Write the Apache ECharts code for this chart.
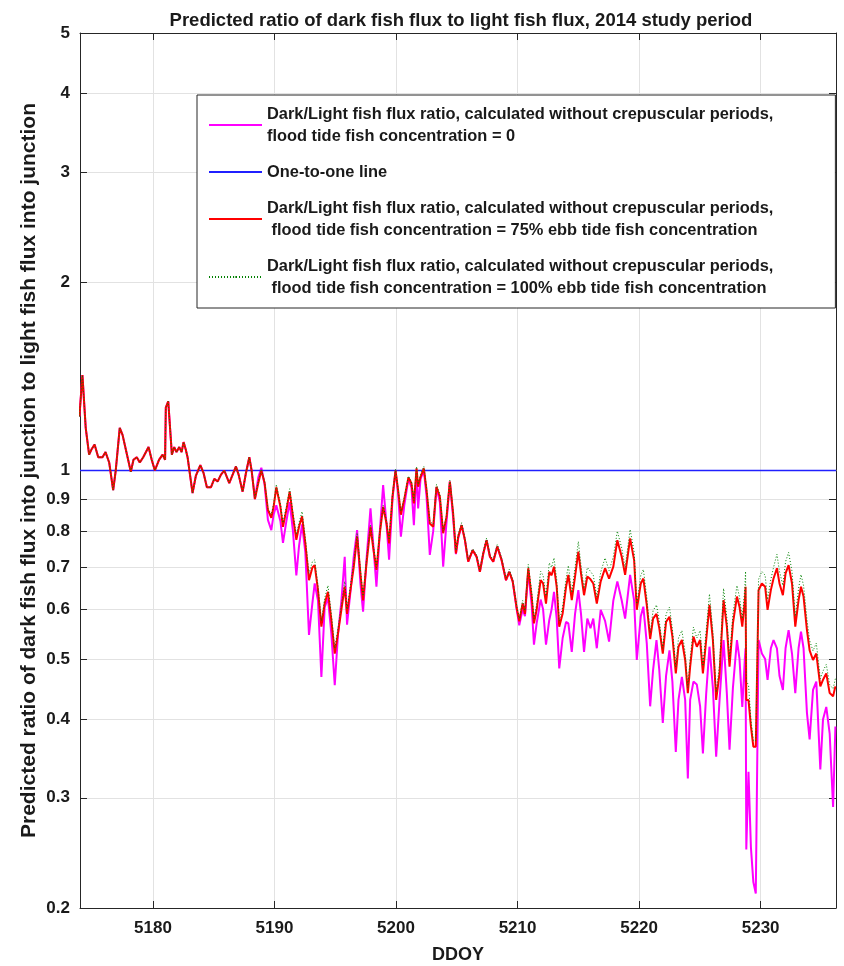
<!DOCTYPE html>
<html>
<head>
<meta charset="utf-8">
<script src="https://cdn.jsdelivr.net/npm/echarts@6/dist/echarts.min.js"></script>
<style>
html, body { margin: 0; padding: 0; background: #fff; }
#chart { width: 844px; height: 966px; }
</style>
</head>
<body>
<div id="chart"></div>
<script>
// tick values
var xTicks = [5180, 5190, 5200, 5210, 5220, 5230];
var yTicks = [0.2, 0.3, 0.4, 0.5, 0.6, 0.7, 0.8, 0.9, 1, 2, 3, 4, 5];

// flood tide fish concentration = 0 (magenta)
var ratioZero = [
  [5173.95,1.22],[5174.2,1.42],[5174.47,1.17],[5174.75,1.06],[5174.94,1.08],[5175.2,1.10],[5175.5,1.05],[5175.85,1.05],
  [5176.1,1.07],[5176.4,1.03],[5176.73,0.93],[5176.94,1.0],[5177.27,1.17],[5177.5,1.14],[5177.77,1.08],[5177.96,1.04],
  [5178.18,0.995],[5178.4,1.04],[5178.67,1.05],[5178.92,1.03],[5179.2,1.05],[5179.64,1.09],[5179.9,1.04],[5180.16,1.0],
  [5180.5,1.04],[5180.8,1.06],[5181.0,1.04],[5181.06,1.26],[5181.26,1.29],[5181.42,1.29],[5181.56,1.06],[5181.75,1.09],
  [5181.94,1.07],[5182.17,1.09],[5182.36,1.07],[5182.52,1.11],[5182.7,1.08],[5182.85,1.05],[5183.26,0.92],[5183.53,0.98],
  [5183.9,1.02],[5184.17,0.99],[5184.44,0.94],[5184.77,0.94],[5185.05,0.97],[5185.32,0.96],[5185.6,0.985],[5185.87,1.0],
  [5186.28,0.955],[5186.56,0.985],[5186.83,1.015],[5187.05,0.985],[5187.38,0.925],[5187.65,0.99],[5187.93,1.05],[5188.12,1.0],
  [5188.39,0.9],[5188.67,0.975],[5188.92,1.01],[5189.19,0.95],[5189.46,0.834],[5189.74,0.803],[5189.93,0.85],[5190.15,0.88],
  [5190.49,0.83],[5190.7,0.766],[5190.98,0.83],[5191.25,0.89],[5191.52,0.80],[5191.8,0.68],[5192.02,0.757],[5192.27,0.82],
  [5192.54,0.74],[5192.84,0.546],[5193.12,0.614],[5193.31,0.66],[5193.58,0.62],[5193.86,0.468],[5194.13,0.605],[5194.4,0.625],
  [5194.68,0.548],[5194.96,0.454],[5195.23,0.548],[5195.51,0.62],[5195.78,0.728],[5195.97,0.567],[5196.25,0.64],[5196.52,0.728],
  [5196.8,0.803],[5197.07,0.66],[5197.29,0.595],[5197.57,0.72],[5197.9,0.87],[5198.11,0.77],[5198.39,0.652],[5198.67,0.80],
  [5198.94,0.948],[5199.22,0.82],[5199.43,0.72],[5199.71,0.90],[5199.96,1.0],[5200.17,0.92],[5200.4,0.784],[5200.68,0.88],
  [5201.02,0.97],[5201.27,0.94],[5201.47,0.818],[5201.69,1.0],[5201.82,0.87],[5202.02,0.97],[5202.29,1.0],[5202.51,0.91],
  [5202.78,0.733],[5203.06,0.80],[5203.33,0.94],[5203.61,0.89],[5203.88,0.702],[5204.16,0.83],[5204.43,0.96],[5204.7,0.84],
  [5204.93,0.735],[5205.12,0.78],[5205.4,0.818],[5205.67,0.774],[5205.94,0.715],[5206.31,0.746],[5206.63,0.728],[5206.9,0.689],
  [5207.18,0.737],[5207.45,0.774],[5207.73,0.728],[5208.0,0.715],[5208.33,0.756],[5208.69,0.719],[5209.05,0.668],[5209.32,0.689],
  [5209.6,0.665],[5209.93,0.60],[5210.14,0.566],[5210.42,0.60],[5210.61,0.585],[5210.88,0.69],[5211.16,0.61],[5211.35,0.527],
  [5211.57,0.57],[5211.9,0.622],[5212.1,0.6],[5212.34,0.527],[5212.61,0.577],[5212.8,0.6],[5213.0,0.64],[5213.22,0.58],
  [5213.43,0.483],[5213.71,0.54],[5213.99,0.573],[5214.18,0.57],[5214.46,0.513],[5214.73,0.59],[5215.0,0.644],[5215.22,0.59],
  [5215.47,0.513],[5215.74,0.58],[5216.0,0.56],[5216.23,0.58],[5216.52,0.52],[5216.84,0.599],[5217.2,0.575],[5217.53,0.533],
  [5217.88,0.62],[5218.21,0.665],[5218.57,0.62],[5218.85,0.58],[5219.26,0.681],[5219.59,0.62],[5219.81,0.498],[5220.14,0.585],
  [5220.35,0.606],[5220.63,0.53],[5220.91,0.42],[5221.15,0.48],[5221.43,0.536],[5221.66,0.48],[5221.95,0.395],[5222.22,0.47],
  [5222.5,0.516],[5222.74,0.46],[5223.02,0.355],[5223.24,0.43],[5223.52,0.468],[5223.79,0.43],[5224.01,0.322],[5224.2,0.43],
  [5224.47,0.46],[5224.75,0.455],[5225.02,0.42],[5225.25,0.353],[5225.52,0.44],[5225.79,0.523],[5226.07,0.45],[5226.34,0.349],
  [5226.62,0.43],[5226.95,0.536],[5227.22,0.44],[5227.44,0.358],[5227.72,0.45],[5228.05,0.536],[5228.26,0.5],[5228.49,0.419],
  [5228.7,0.5],[5228.76,0.52],[5228.82,0.248],[5229.0,0.33],[5229.2,0.25],[5229.4,0.22],[5229.6,0.211],[5229.83,0.536],
  [5230.1,0.51],[5230.37,0.50],[5230.57,0.463],[5230.84,0.52],[5231.06,0.536],[5231.34,0.52],[5231.55,0.47],[5231.83,0.446],
  [5232.05,0.52],[5232.3,0.556],[5232.58,0.51],[5232.85,0.441],[5233.12,0.52],[5233.32,0.553],[5233.53,0.52],[5233.81,0.41],
  [5234.03,0.372],[5234.31,0.446],[5234.58,0.46],[5234.91,0.333],[5235.13,0.40],[5235.4,0.419],[5235.68,0.38],[5235.96,0.29],
  [5236.15,0.39]
];

// flood tide fish concentration = 75% ebb (red)
var ratio75 = [
  [5173.95,1.22],[5174.2,1.42],[5174.47,1.17],[5174.75,1.06],[5174.94,1.08],[5175.2,1.10],[5175.5,1.05],[5175.85,1.05],
  [5176.1,1.07],[5176.4,1.03],[5176.73,0.93],[5176.94,1.0],[5177.27,1.17],[5177.5,1.14],[5177.77,1.08],[5177.96,1.04],
  [5178.18,0.995],[5178.4,1.04],[5178.67,1.05],[5178.92,1.03],[5179.2,1.05],[5179.64,1.09],[5179.9,1.04],[5180.16,1.0],
  [5180.5,1.04],[5180.8,1.06],[5181.0,1.04],[5181.06,1.26],[5181.26,1.29],[5181.42,1.29],[5181.56,1.06],[5181.75,1.09],
  [5181.94,1.07],[5182.17,1.09],[5182.36,1.07],[5182.52,1.11],[5182.7,1.08],[5182.85,1.05],[5183.26,0.92],[5183.53,0.98],
  [5183.9,1.02],[5184.17,0.99],[5184.44,0.94],[5184.77,0.94],[5185.05,0.97],[5185.32,0.96],[5185.6,0.985],[5185.87,1.0],
  [5186.28,0.955],[5186.56,0.985],[5186.83,1.015],[5187.05,0.985],[5187.38,0.925],[5187.65,0.99],[5187.93,1.05],[5188.12,1.0],
  [5188.39,0.9],[5188.67,0.955],[5188.92,1.0],[5189.19,0.955],[5189.46,0.865],[5189.74,0.84],[5189.93,0.875],[5190.15,0.94],
  [5190.49,0.875],[5190.7,0.813],[5190.98,0.865],[5191.25,0.925],[5191.52,0.845],[5191.8,0.775],[5192.02,0.813],[5192.27,0.845],
  [5192.54,0.765],[5192.84,0.668],[5193.12,0.70],[5193.31,0.706],[5193.58,0.644],[5193.86,0.563],[5194.13,0.613],[5194.4,0.64],
  [5194.68,0.577],[5194.96,0.51],[5195.23,0.55],[5195.51,0.60],[5195.78,0.652],[5195.97,0.59],[5196.25,0.644],[5196.52,0.70],
  [5196.8,0.785],[5197.07,0.685],[5197.29,0.62],[5197.57,0.71],[5197.9,0.813],[5198.11,0.756],[5198.39,0.694],[5198.67,0.794],
  [5198.94,0.875],[5199.22,0.823],[5199.43,0.765],[5199.71,0.908],[5199.96,1.0],[5200.17,0.931],[5200.4,0.85],[5200.68,0.90],
  [5201.02,0.975],[5201.27,0.954],[5201.47,0.886],[5201.69,1.008],[5201.82,0.942],[5202.02,0.977],[5202.29,1.008],[5202.51,0.931],
  [5202.78,0.823],[5203.06,0.813],[5203.33,0.942],[5203.61,0.908],[5203.88,0.794],[5204.16,0.844],[5204.43,0.96],[5204.7,0.854],
  [5204.93,0.737],[5205.12,0.784],[5205.4,0.818],[5205.67,0.774],[5205.94,0.715],[5206.31,0.746],[5206.63,0.728],[5206.9,0.689],
  [5207.18,0.737],[5207.45,0.774],[5207.73,0.728],[5208.0,0.715],[5208.33,0.756],[5208.69,0.719],[5209.05,0.668],[5209.32,0.689],
  [5209.6,0.665],[5209.93,0.603],[5210.14,0.574],[5210.42,0.613],[5210.61,0.59],[5210.88,0.698],[5211.16,0.629],[5211.35,0.57],
  [5211.57,0.599],[5211.9,0.668],[5212.1,0.66],[5212.34,0.613],[5212.61,0.689],[5212.8,0.68],[5213.0,0.702],[5213.22,0.652],
  [5213.43,0.563],[5213.71,0.591],[5213.99,0.652],[5214.18,0.681],[5214.46,0.621],[5214.73,0.677],[5215.0,0.742],[5215.22,0.685],
  [5215.47,0.632],[5215.74,0.677],[5216.0,0.67],[5216.23,0.66],[5216.52,0.613],[5216.84,0.665],[5217.2,0.698],[5217.53,0.672],
  [5217.88,0.702],[5218.21,0.774],[5218.57,0.728],[5218.85,0.681],[5219.26,0.779],[5219.59,0.719],[5219.81,0.599],[5220.14,0.66],
  [5220.35,0.672],[5220.63,0.61],[5220.91,0.538],[5221.15,0.58],[5221.43,0.59],[5221.66,0.56],[5221.95,0.51],[5222.22,0.573],
  [5222.5,0.584],[5222.74,0.543],[5223.02,0.474],[5223.24,0.523],[5223.52,0.536],[5223.79,0.498],[5224.01,0.441],[5224.2,0.486],
  [5224.47,0.543],[5224.75,0.523],[5225.02,0.536],[5225.25,0.474],[5225.52,0.536],[5225.79,0.61],[5226.07,0.536],[5226.34,0.43],
  [5226.62,0.474],[5226.95,0.621],[5227.22,0.563],[5227.44,0.486],[5227.72,0.57],[5228.05,0.629],[5228.26,0.606],[5228.49,0.563],
  [5228.7,0.62],[5228.76,0.652],[5228.82,0.43],[5229.0,0.43],[5229.2,0.39],[5229.4,0.362],[5229.6,0.362],[5229.83,0.644],
  [5230.1,0.66],[5230.37,0.652],[5230.57,0.599],[5230.84,0.644],[5231.06,0.672],[5231.34,0.698],[5231.55,0.66],[5231.83,0.632],
  [5232.05,0.685],[5232.3,0.706],[5232.58,0.66],[5232.85,0.563],[5233.12,0.621],[5233.32,0.652],[5233.53,0.629],[5233.81,0.556],
  [5234.03,0.516],[5234.31,0.498],[5234.58,0.51],[5234.91,0.452],[5235.13,0.463],[5235.4,0.474],[5235.68,0.441],[5235.96,0.436],
  [5236.15,0.452]
];

// flood tide fish concentration = 100% ebb (green dotted)
var ratio100 = [
  [5173.95,1.22],[5174.2,1.42],[5174.47,1.17],[5174.75,1.06],[5174.94,1.08],[5175.2,1.10],[5175.5,1.05],[5175.85,1.05],
  [5176.1,1.07],[5176.4,1.03],[5176.73,0.93],[5176.94,1.0],[5177.27,1.17],[5177.5,1.14],[5177.77,1.08],[5177.96,1.04],
  [5178.18,0.995],[5178.4,1.04],[5178.67,1.05],[5178.92,1.03],[5179.2,1.05],[5179.64,1.09],[5179.9,1.04],[5180.16,1.0],
  [5180.5,1.04],[5180.8,1.06],[5181.0,1.04],[5181.06,1.26],[5181.26,1.29],[5181.42,1.29],[5181.56,1.06],[5181.75,1.09],
  [5181.94,1.07],[5182.17,1.09],[5182.36,1.07],[5182.52,1.11],[5182.7,1.08],[5182.85,1.05],[5183.26,0.92],[5183.53,0.98],
  [5183.9,1.02],[5184.17,0.99],[5184.44,0.94],[5184.77,0.94],[5185.05,0.97],[5185.32,0.96],[5185.6,0.985],[5185.87,1.0],
  [5186.28,0.955],[5186.56,0.985],[5186.83,1.015],[5187.05,0.985],[5187.38,0.925],[5187.65,0.99],[5187.93,1.05],[5188.12,1.0],
  [5188.39,0.905],[5188.67,0.96],[5188.92,1.005],[5189.19,0.96],[5189.46,0.87],[5189.74,0.85],[5189.93,0.885],[5190.15,0.95],
  [5190.49,0.885],[5190.7,0.825],[5190.98,0.875],[5191.25,0.935],[5191.52,0.855],[5191.8,0.79],[5192.02,0.825],[5192.27,0.86],
  [5192.54,0.78],[5192.84,0.685],[5193.12,0.715],[5193.31,0.72],[5193.58,0.655],[5193.86,0.575],[5194.13,0.625],[5194.4,0.655],
  [5194.68,0.59],[5194.96,0.52],[5195.23,0.56],[5195.51,0.61],[5195.78,0.665],[5195.97,0.60],[5196.25,0.655],[5196.52,0.71],
  [5196.8,0.795],[5197.07,0.695],[5197.29,0.63],[5197.57,0.72],[5197.9,0.82],[5198.11,0.765],[5198.39,0.70],[5198.67,0.80],
  [5198.94,0.88],[5199.22,0.83],[5199.43,0.775],[5199.71,0.915],[5199.96,1.005],[5200.17,0.935],[5200.4,0.86],[5200.68,0.905],
  [5201.02,0.98],[5201.27,0.96],[5201.47,0.895],[5201.69,1.015],[5201.82,0.95],[5202.02,0.985],[5202.29,1.015],[5202.51,0.94],
  [5202.78,0.83],[5203.06,0.82],[5203.33,0.95],[5203.61,0.915],[5203.88,0.80],[5204.16,0.85],[5204.43,0.965],[5204.7,0.86],
  [5204.93,0.745],[5205.12,0.79],[5205.4,0.825],[5205.67,0.78],[5205.94,0.72],[5206.31,0.75],[5206.63,0.733],[5206.9,0.693],
  [5207.18,0.742],[5207.45,0.78],[5207.73,0.733],[5208.0,0.72],[5208.33,0.762],[5208.69,0.725],[5209.05,0.673],[5209.32,0.695],
  [5209.6,0.67],[5209.93,0.608],[5210.14,0.58],[5210.42,0.62],[5210.61,0.597],[5210.88,0.708],[5211.16,0.64],[5211.35,0.58],
  [5211.57,0.612],[5211.9,0.69],[5212.1,0.68],[5212.34,0.63],[5212.61,0.712],[5212.8,0.70],[5213.0,0.725],[5213.22,0.67],
  [5213.43,0.575],[5213.71,0.605],[5213.99,0.672],[5214.18,0.705],[5214.46,0.638],[5214.73,0.70],[5215.0,0.77],[5215.22,0.705],
  [5215.47,0.648],[5215.74,0.70],[5216.0,0.69],[5216.23,0.68],[5216.52,0.628],[5216.84,0.688],[5217.2,0.725],[5217.53,0.692],
  [5217.88,0.728],[5218.21,0.80],[5218.57,0.752],[5218.85,0.70],[5219.26,0.805],[5219.59,0.742],[5219.81,0.612],[5220.14,0.68],
  [5220.35,0.695],[5220.63,0.628],[5220.91,0.55],[5221.15,0.597],[5221.43,0.61],[5221.66,0.575],[5221.95,0.52],[5222.22,0.59],
  [5222.5,0.605],[5222.74,0.558],[5223.02,0.485],[5223.24,0.54],[5223.52,0.555],[5223.79,0.512],[5224.01,0.45],[5224.2,0.50],
  [5224.47,0.562],[5224.75,0.54],[5225.02,0.555],[5225.25,0.487],[5225.52,0.555],[5225.79,0.635],[5226.07,0.553],[5226.34,0.442],
  [5226.62,0.49],[5226.95,0.648],[5227.22,0.582],[5227.44,0.50],[5227.72,0.59],[5228.05,0.655],[5228.26,0.628],[5228.49,0.58],
  [5228.7,0.65],[5228.76,0.69],[5228.82,0.46],[5229.0,0.455],[5229.2,0.40],[5229.4,0.37],[5229.6,0.37],[5229.83,0.67],
  [5230.1,0.69],[5230.37,0.68],[5230.57,0.622],[5230.84,0.67],[5231.06,0.70],[5231.34,0.735],[5231.55,0.69],[5231.83,0.655],
  [5232.05,0.715],[5232.3,0.74],[5232.58,0.69],[5232.85,0.585],[5233.12,0.648],[5233.32,0.682],[5233.53,0.655],[5233.81,0.578],
  [5234.03,0.535],[5234.31,0.515],[5234.58,0.53],[5234.91,0.465],[5235.13,0.478],[5235.4,0.49],[5235.68,0.455],[5235.96,0.448],
  [5236.15,0.465]
];

var oneToOne = [[5174, 1], [5236.2, 1]];

var nameZero = 'Dark/Light fish flux ratio, calculated without crepuscular periods,\nflood tide fish concentration = 0';
var nameOne = 'One-to-one line';
var name75 = 'Dark/Light fish flux ratio, calculated without crepuscular periods,\n flood tide fish concentration = 75% ebb tide fish concentration';
var name100 = 'Dark/Light fish flux ratio, calculated without crepuscular periods,\n flood tide fish concentration = 100% ebb tide fish concentration';

var font = '"Liberation Sans", Arial, sans-serif';
var ink = '#1a1a1a';

var myChart = echarts.init(document.getElementById('chart'));
var option = {
    animation: false,
    backgroundColor: '#fff',
    title: {
        text: 'Predicted ratio of dark fish flux to light fish flux, 2014 study period',
        left: 456,
        top: 6,
        textAlign: 'center',
        textStyle: { color: ink, fontFamily: font, fontWeight: 'bold', fontSize: 18.5 }
    },
    legend: {
        orient: 'vertical',
        left: 197,
        top: 95,
        padding: [8, 62, 9, 11],
        itemGap: 14,
        itemWidth: 53,
        itemHeight: 2,
        backgroundColor: '#fff',
        borderColor: '#262626',
        borderWidth: 1,
        borderRadius: 0,
        data: [nameZero, nameOne, name75, name100],
        textStyle: { color: ink, fontFamily: font, fontWeight: 'bold', fontSize: 16.4, lineHeight: 22 }
    },
    grid: { left: 80, right: 8, top: 33, bottom: 58, outerBoundsMode: 'none' },
    xAxis: [
        {
            type: 'value',
            min: 5174,
            max: 5236.2,
            name: 'DDOY',
            nameLocation: 'middle',
            nameGap: 38,
            nameTextStyle: { color: ink, fontFamily: font, fontWeight: 'bold', fontSize: 18 },
            axisLine: { lineStyle: { color: '#262626', width: 1 } },
            axisTick: { inside: true, length: 7, customValues: xTicks, lineStyle: { color: '#262626' } },
            axisLabel: {
                customValues: xTicks,
                formatter: function (v) { return String(v); },
                color: ink, fontFamily: font, fontWeight: 'bold', fontSize: 17, margin: 12
            },
            splitLine: { show: true, lineStyle: { color: '#e2e2e2', width: 1 } }
        },
        {
            type: 'value',
            position: 'top',
            min: 5174,
            max: 5236.2,
            axisLine: { lineStyle: { color: '#262626', width: 1 } },
            axisTick: { inside: true, length: 7, customValues: xTicks, lineStyle: { color: '#262626' } },
            axisLabel: { show: false },
            splitLine: { show: false }
        }
    ],
    yAxis: [
        {
            type: 'log',
            logBase: 10,
            min: 0.2,
            max: 5,
            name: 'Predicted ratio of dark fish flux into junction to light fish flux into junction',
            nameLocation: 'middle',
            nameGap: 40,
            nameMoveOverlap: false,
            nameTextStyle: { color: ink, fontFamily: font, fontWeight: 'bold', fontSize: 21 },
            axisLine: { show: true, lineStyle: { color: '#262626', width: 1 } },
            axisTick: { show: true, inside: true, length: 7, customValues: yTicks, lineStyle: { color: '#262626' } },
            axisLabel: { customValues: yTicks, color: ink, fontFamily: font, fontWeight: 'bold', fontSize: 17, margin: 10 },
            splitLine: { show: true, lineStyle: { color: '#e2e2e2', width: 1 } }
        },
        {
            type: 'log',
            logBase: 10,
            min: 0.2,
            max: 5,
            position: 'right',
            axisLine: { show: true, lineStyle: { color: '#262626', width: 1 } },
            axisTick: { show: true, inside: true, length: 7, customValues: yTicks, lineStyle: { color: '#262626' } },
            axisLabel: { show: false },
            splitLine: { show: false }
        }
    ],
    series: [
        {
            name: nameZero,
            type: 'line',
            data: ratioZero,
            symbol: 'none',
            color: '#ff00ff',
            lineStyle: { width: 2, color: '#ff00ff' },
            z: 2
        },
        {
            name: nameOne,
            type: 'line',
            data: oneToOne,
            symbol: 'none',
            color: '#2020ff',
            lineStyle: { width: 1.5, color: '#2020ff' },
            z: 3
        },
        {
            name: name75,
            type: 'line',
            data: ratio75,
            symbol: 'none',
            color: '#ff0000',
            lineStyle: { width: 2, color: '#ff0000' },
            z: 4
        },
        {
            name: name100,
            type: 'line',
            data: ratio100,
            symbol: 'none',
            color: '#008000',
            lineStyle: { width: 1, color: '#008000', type: [1, 2] },
            z: 5
        }
    ]
};
myChart.setOption(option);
</script>
</body>
</html>
